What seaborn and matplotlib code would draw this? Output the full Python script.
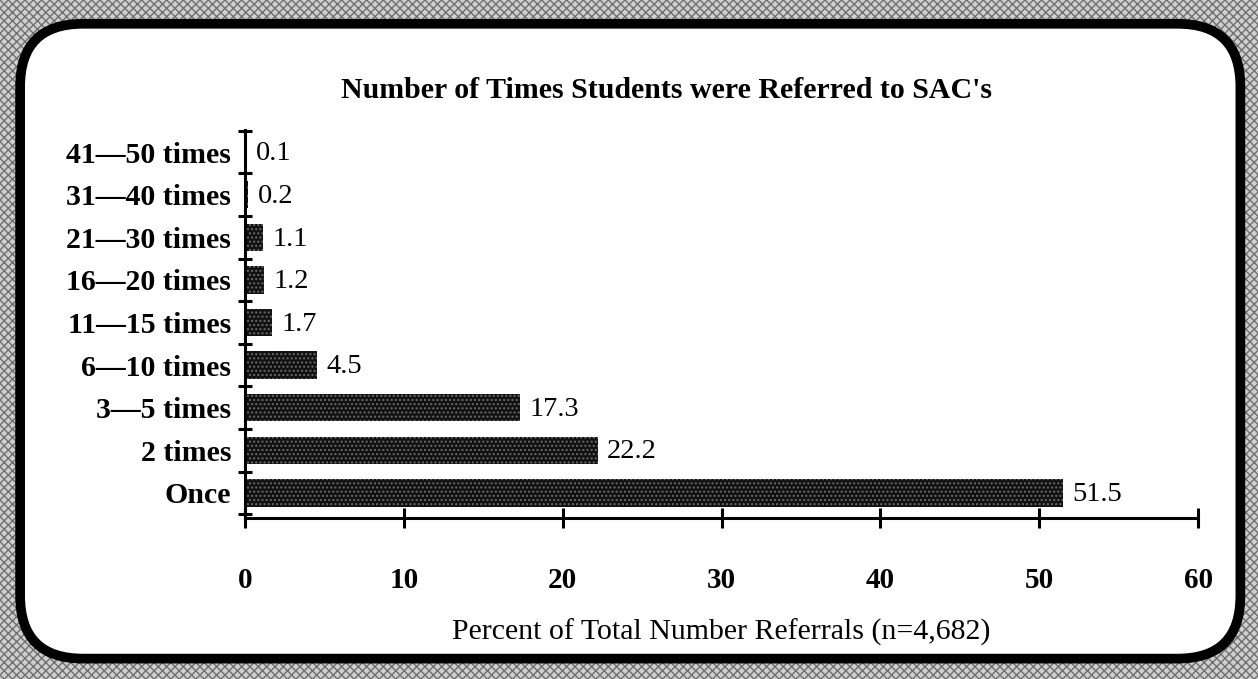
import numpy as np
import pandas as pd
import seaborn as sns
import matplotlib.pyplot as plt
from matplotlib.patches import FancyBboxPatch, Rectangle

# data
categories = ["41\u201450 times", "31\u201440 times", "21\u201430 times", "16\u201420 times",
              "11\u201415 times", "6\u201410 times", "3\u20145 times", "2 times", "Once"]
percents = [0.1, 0.2, 1.1, 1.2, 1.7, 4.5, 17.3, 22.2, 51.5]
x_ticks = [0, 10, 20, 30, 40, 50, 60]

title = "Number of Times Students were Referred to SAC's"
x_label = "Percent of Total Number Referrals (n=4,682)"

df = pd.DataFrame({"times": categories, "pct": percents})

sns.set_style("white")
plt.rcParams['font.family'] = ['Liberation Serif', 'DejaVu Serif']
plt.rcParams['hatch.linewidth'] = 1.0
for key in ('text.color', 'axes.labelcolor', 'xtick.color', 'ytick.color'):
    plt.rcParams[key] = 'black'

fig = plt.figure(figsize=(12.58, 6.79), dpi=100)

# scanned-looking frame: stippled gray band with a black rounded box inside
fig.patches.append(Rectangle((0, 0), 1, 1, transform=fig.transFigure,
                             facecolor='#cfcfcf', edgecolor='#707070',
                             hatch='xxxx', lw=0, zorder=-3))
fig.patches.append(FancyBboxPatch((0.016, 0.030), 0.970, 0.935,
                                  boxstyle="round,pad=0,rounding_size=0.05",
                                  transform=fig.transFigure, mutation_aspect=1258 / 679,
                                  facecolor='white', edgecolor='black', lw=7, zorder=-2))

ax = fig.add_axes([0.1948, 0.2371, 0.7576, 0.5714])
ax.set_facecolor('none')

sns.barplot(data=df, x="pct", y="times", order=categories, orient="h",
            color='#111111', width=0.64, ax=ax)

for bar in ax.patches:
    bar.set_hatch('....')
    bar.set_edgecolor('#6a6a6a')
    bar.set_linewidth(0)

for bar, v in zip(ax.patches, percents):
    ax.text(bar.get_width() + 0.6, bar.get_y() + bar.get_height() * 0.80, f"{v:.1f}",
            ha='left', va='baseline', fontsize=20.5, color='black')

ax.set_xlim(0, 60)
ax.set_ylim(8.59, -0.52)
ax.set_xticks(x_ticks)
ax.set_xticklabels([str(t) for t in x_ticks], fontsize=21, fontweight='bold')
ax.set_yticklabels(categories, fontsize=21.5, fontweight='bold')
ax.set_yticks(np.arange(-0.5, 9.0, 1.0), minor=True)

ax.tick_params(axis='x', bottom=True, direction='inout', length=14, width=2.2, pad=28)
ax.tick_params(axis='y', which='major', length=0, pad=10)
ax.tick_params(axis='y', which='minor', direction='inout', length=10, width=2.2, left=True)

sns.despine(ax=ax, top=True, right=True)
for side in ('left', 'bottom'):
    ax.spines[side].set_linewidth(2.2)
    ax.spines[side].set_color('black')

ax.set_xlabel("")
ax.set_ylabel("")

fig.text(0.530, 0.867, title, ha='center', va='center', fontsize=21.5, fontweight='bold')
fig.text(0.573, 0.069, x_label, ha='center', va='center', fontsize=21.5)

fig.savefig('out.png', dpi=100)
